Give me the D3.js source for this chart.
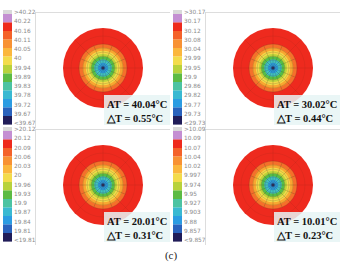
<!DOCTYPE html>
<html>
<head>
<meta charset="utf-8">
<script src="https://d3js.org/d3.v7.min.js"></script>
<style>
  body { margin: 0; background: #fff; }
  .lbl { font-family: "DejaVu Sans", sans-serif; font-size: 5.8px; fill: #8a8a8a; }
  .note { font-family: "Liberation Serif", serif; font-weight: bold; font-size: 10.5px; fill: #111; }
  .cap { font-family: "Liberation Serif", serif; font-size: 11px; fill: #222; }
</style>
</head>
<body>
<script>
// values
var atValues = ["40.04", "30.02", "20.01", "10.01"];
var dtValues = ["0.55", "0.44", "0.31", "0.23"];

var legend40 = [">40.22", "40.22", "40.16", "40.11", "40.05", "40", "39.94", "39.89", "39.83", "39.78", "39.72", "39.67", "<39.67"];
var legend30 = [">30.17", "30.17", "30.12", "30.08", "30.04", "29.99", "29.95", "29.9", "29.86", "29.82", "29.77", "29.73", "<29.73"];
var legend20 = [">20.12", "20.12", "20.09", "20.06", "20.03", "20", "19.96", "19.93", "19.9", "19.87", "19.84", "19.81", "<19.81"];
var legend10 = [">10.09", "10.09", "10.07", "10.04", "10.02", "9.997", "9.974", "9.95", "9.927", "9.903", "9.88", "9.857", "<9.857"];
var legends = [legend40, legend30, legend20, legend10];

var legendColors = ["#c48fd2", "#ee2a1c", "#f4622a", "#f89234", "#fbb73e", "#f3dc4c", "#b8d23c",
                    "#5cbb44", "#4cc3a2", "#3ab9d2", "#2c9ce2", "#2a62bc", "#201c58"];

// temperature field: ring outer radius (fraction of plate radius) and colour
var ringEdges = [1, 0.6, 0.51, 0.43, 0.35, 0.29, 0.22, 0.13, 0.045];
var ringColors = ["#ee2a1e", "#f5702a", "#f9a631", "#f4da4a", "#bcd53c", "#55bd48", "#3fc0c4", "#2a9ee0", "#1c3f9a"];

var W = 342, H = 265;
var svg = d3.select("body").append("svg").attr("width", W).attr("height", H);

var offsets = [[0, 0], [170, 0], [0, 117], [170, 117]];
var R = 40;
var r = d3.scaleLinear().domain([0, 1]).range([0, R]);
var ly = d3.scaleLinear().domain([0, 12]).range([12, 123]);

offsets.forEach(function(o, i) {
  var g = svg.append("g").attr("transform", "translate(" + o[0] + "," + o[1] + ")");

  // panel frame (top and left edge)
  g.append("path").attr("d", "M35,12.5H170M35.5,12.5V128")
    .attr("fill", "none").attr("stroke", "#d4d4d4").attr("stroke-width", 0.8);

  // legend
  g.append("rect").attr("x", 3).attr("y", 10).attr("width", 9).attr("height", 4).attr("fill", "#d9d9d9");
  g.selectAll(".sw").data(legendColors).enter().append("rect")
    .attr("x", 3).attr("width", 9)
    .attr("y", function(d, j) { return 14 + j * 8.5; })
    .attr("height", 8.6)
    .attr("fill", function(d) { return d; });
  g.selectAll(".lbl").data(legends[i]).enter().append("text")
    .attr("class", "lbl")
    .attr("x", 14)
    .attr("y", function(d, j) { return ly(j) + 2; })
    .text(function(d) { return d; });

  // plate
  var cx = 103, cy = 68;
  var pg = g.append("g").attr("transform", "translate(" + cx + "," + cy + ")");
  pg.selectAll("circle.ring").data(ringEdges).enter().append("circle")
    .attr("class", "ring")
    .attr("r", function(d) { return r(d); })
    .attr("fill", function(d, j) { return ringColors[j]; });

  // mesh lines
  var spokes = d3.range(16).map(function(k) { return k * Math.PI / 8; });
  pg.selectAll(".sp").data(spokes).enter().append("line")
    .attr("x1", 0).attr("y1", 0)
    .attr("x2", function(a) { return Math.cos(a) * r(0.6); })
    .attr("y2", function(a) { return Math.sin(a) * r(0.6); })
    .attr("stroke", "#3a2a20").attr("stroke-opacity", 0.4).attr("stroke-width", 0.5);
  pg.selectAll(".sp2").data(spokes.filter(function(a, k) { return k % 2 === 0; })).enter().append("line")
    .attr("x1", function(a) { return Math.cos(a) * r(0.6); })
    .attr("y1", function(a) { return Math.sin(a) * r(0.6); })
    .attr("x2", function(a) { return Math.cos(a) * r(1); })
    .attr("y2", function(a) { return Math.sin(a) * r(1); })
    .attr("stroke", "#5a1a10").attr("stroke-opacity", 0.2).attr("stroke-width", 0.5);
  pg.selectAll(".mc").data([0.2, 0.3, 0.4, 0.5, 0.6, 0.8]).enter().append("circle")
    .attr("r", function(d) { return r(d); })
    .attr("fill", "none")
    .attr("stroke", "#3a2a20")
    .attr("stroke-opacity", function(d) { return d > 0.6 ? 0.15 : 0.35; })
    .attr("stroke-width", 0.5);

  // result box
  g.append("rect").attr("x", 104).attr("y", 95).attr("width", 66).attr("height", 30)
    .attr("fill", "#e6f4f5").attr("fill-opacity", 0.85);
  g.append("text").attr("class", "note").attr("x", 107).attr("y", 108)
    .text("AT = " + atValues[i] + "°C");
  g.append("text").attr("class", "note").attr("x", 107).attr("y", 122)
    .text("△T = " + dtValues[i] + "°C");
});

svg.append("text").attr("class", "cap").attr("x", 171).attr("y", 259)
  .attr("text-anchor", "middle").text("(c)");
</script>
</body>
</html>
